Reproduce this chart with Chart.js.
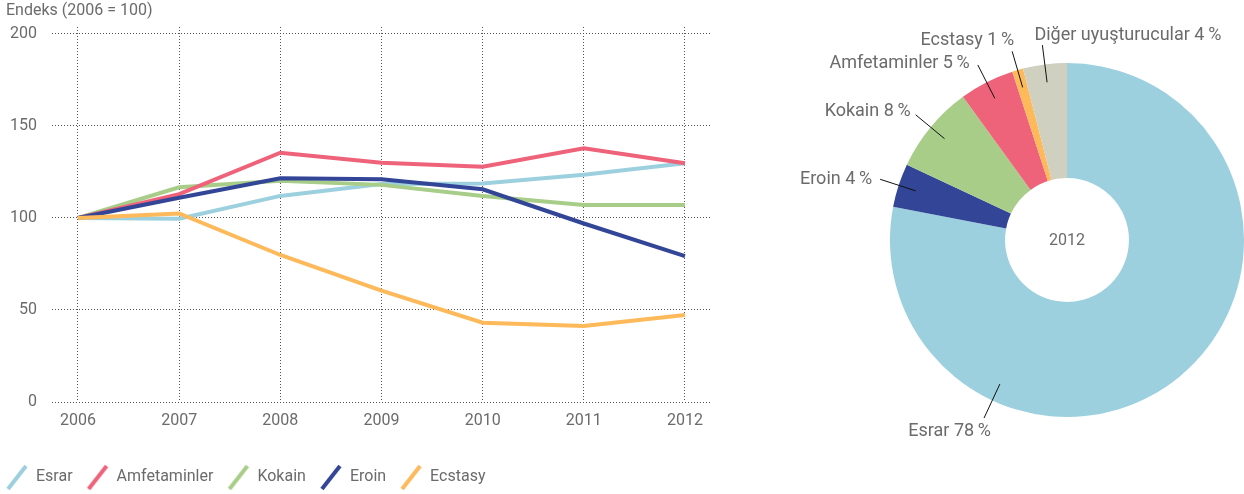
<!DOCTYPE html>
<html>
<head>
<meta charset="utf-8">
<script src="https://cdn.jsdelivr.net/npm/chart.js@4.4.1/dist/chart.umd.min.js"></script>
<style>
  html, body { margin: 0; padding: 0; background: #fff; overflow: hidden; }
  #wrap { position: relative; width: 1244px; height: 494px; }
  .kutu { position: absolute; top: 0; height: 494px; }
</style>
</head>
<body>
<div id="wrap">
  <div class="kutu" style="left:0;width:740px"><canvas id="trend"></canvas></div>
  <div class="kutu" style="left:740px;width:504px"><canvas id="pay"></canvas></div>
</div>
<script>
// endeks (2006 = 100)
const yillar = [2006, 2007, 2008, 2009, 2010, 2011, 2012];
const esrar = [100, 99.6, 112, 118.5, 118.8, 123.5, 129.7];
const amfetaminler = [100, 113, 135.5, 130, 127.9, 137.9, 129.7];
const kokain = [100, 116.7, 120.3, 118, 112, 107, 107];
const eroin = [100, 111, 121.6, 121, 115.6, 97, 79.3];
const ecstasy = [100, 102.5, 79.9, 60.5, 43.1, 41.3, 47.3];
const yDegerleri = [0, 50, 100, 150, 200];

// 2012 paylari
const payEtiketleri = ['Esrar', 'Eroin', 'Kokain', 'Amfetaminler', 'Ecstasy', 'Diğer uyuşturucular'];
const payDegerleri = [78, 4, 8, 5, 1, 4];
const merkezYazi = '2012';

const GRI = '#6b6b6b';
Chart.defaults.font.family = 'Roboto';
Chart.defaults.color = GRI;

function cizgiIkon(renk) {
    const c = document.createElement('canvas');
    c.width = 24;
    c.height = 28;
    const g = c.getContext('2d');
    g.strokeStyle = renk;
    g.lineWidth = 4;
    g.beginPath();
    g.moveTo(3, 26);
    g.lineTo(21, 3);
    g.stroke();
    return c;
}

function seri(ad, degerler, renk, sira) {
    return {
        label: ad,
        data: degerler.map((v, i) => ({ x: yillar[i], y: v })),
        borderColor: renk,
        backgroundColor: renk,
        borderWidth: 4,
        pointRadius: 0,
        pointStyle: cizgiIkon(renk),
        tension: 0,
        order: sira
    };
}

// legend'i sola ve biraz asagi kaydir (chart.js ilk ogeyi padding kadar iceriden baslatiyor)
const legendKaydir = {
    id: 'legendKaydir',
    afterLayout(chart) {
        chart.legend.left -= 14;
        chart.legend.right -= 14;
        chart.legend.top += 2;
        chart.legend.bottom += 2;
    }
};

new Chart(document.getElementById('trend'), {
    type: 'line',
    data: {
        datasets: [
            seri('Esrar', esrar, '#9dd0de', 4),
            seri('Amfetaminler', amfetaminler, '#ee627a', 2),
            seri('Kokain', kokain, '#a8cd89', 3),
            seri('Eroin', eroin, '#324597', 1),
            seri('Ecstasy', ecstasy, '#fdb95a', 0)
        ]
    },
    plugins: [legendKaydir],
    options: {
        responsive: true,
        maintainAspectRatio: false,
        animation: false,
        layout: { padding: { left: 6, right: 28, top: 0, bottom: 1 } },
        scales: {
            x: {
                type: 'linear',
                min: 2005.743,
                max: 2012.267,
                afterBuildTicks: s => { s.ticks = yillar.map(v => ({ value: v })); },
                afterFit: s => { s.height = 51; },
                grid: { color: '#555', lineWidth: 1, drawTicks: false },
                border: { display: false, dash: [1, 2] },
                ticks: {
                    padding: 9,
                    font: { size: 16 },
                    color: GRI,
                    callback: v => String(v)
                }
            },
            y: {
                min: 0,
                max: 203.8,
                afterBuildTicks: s => { s.ticks = yDegerleri.map(v => ({ value: v })); },
                afterFit: s => { s.width = 46; },
                grid: { color: '#555', lineWidth: 1, drawTicks: false },
                border: { display: false, dash: [1, 2] },
                ticks: { padding: 15, font: { size: 16 }, color: GRI }
            }
        },
        plugins: {
            tooltip: { enabled: false },
            title: {
                display: true,
                text: 'Endeks (2006 = 100)',
                align: 'start',
                color: GRI,
                font: { size: 16, weight: 'normal' },
                padding: { top: 1, bottom: 6.8 }
            },
            legend: {
                position: 'bottom',
                align: 'start',
                labels: {
                    usePointStyle: true,
                    pointStyleWidth: 22,
                    padding: 14,
                    color: GRI,
                    font: { size: 16 },
                    sort: (a, b) => a.datasetIndex - b.datasetIndex
                }
            }
        }
    }
});

// etiket yerleri: dilim icindeki aci orani, hizalama, yazinin kaymasi
const etiketYerleri = [
    { oran: 0.73, hiza: 'right', dx: 7, dy: 13 },
    { oran: 0.5, hiza: 'right', dx: -8, dy: 0 },
    { oran: 0.5, hiza: 'right', dx: -5, dy: -3 },
    { oran: 0.5, hiza: 'right', dx: -8, dy: -1 },
    { oran: 0.5, hiza: 'right', dx: 2, dy: -11 },
    { oran: 0.5, hiza: 'left', dx: -8, dy: -10 }
];

const payEtiket = {
    id: 'payEtiket',
    afterDatasetsDraw(chart) {
        const ctx = chart.ctx;
        const arcs = chart.getDatasetMeta(0).data;
        ctx.save();
        arcs.forEach((arc, i) => {
            const yer = etiketYerleri[i];
            const a = arc.startAngle + (arc.endAngle - arc.startAngle) * yer.oran;
            const r = arc.outerRadius;
            const x1 = arc.x + Math.cos(a) * r * 0.898;
            const y1 = arc.y + Math.sin(a) * r * 0.898;
            const x2 = arc.x + Math.cos(a) * r * 1.11;
            const y2 = arc.y + Math.sin(a) * r * 1.11;
            ctx.strokeStyle = '#111';
            ctx.lineWidth = 1;
            ctx.beginPath();
            ctx.moveTo(x1, y1);
            ctx.lineTo(x2, y2);
            ctx.stroke();
            ctx.fillStyle = GRI;
            ctx.font = '18px Roboto';
            ctx.textAlign = yer.hiza;
            ctx.textBaseline = 'middle';
            ctx.fillText(payEtiketleri[i] + ' ' + payDegerleri[i] + '\u2009%', x2 + yer.dx, y2 + yer.dy);
        });
        const ilk = arcs[0];
        ctx.font = '16px Roboto';
        ctx.textAlign = 'center';
        ctx.fillText(merkezYazi, ilk.x, ilk.y + 1);
        ctx.restore();
    }
};

new Chart(document.getElementById('pay'), {
    type: 'doughnut',
    data: {
        labels: payEtiketleri,
        datasets: [{
            data: payDegerleri,
            backgroundColor: ['#9dd0de', '#324597', '#a8cd89', '#ee627a', '#fdb95a', '#d0d0c0'],
            borderWidth: 0
        }]
    },
    plugins: [payEtiket],
    options: {
        responsive: true,
        maintainAspectRatio: false,
        animation: false,
        cutout: '35%',
        layout: { padding: { left: 150, right: 0, top: 63, bottom: 77 } },
        plugins: {
            legend: { display: false },
            tooltip: { enabled: false }
        }
    }
});
</script>
</body>
</html>
